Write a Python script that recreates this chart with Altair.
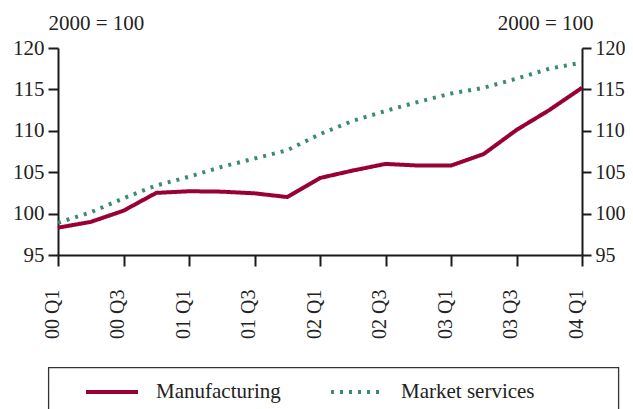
import altair as alt
import pandas as pd

quarters = ["00 Q1", "00 Q2", "00 Q3", "00 Q4",
            "01 Q1", "01 Q2", "01 Q3", "01 Q4",
            "02 Q1", "02 Q2", "02 Q3", "02 Q4",
            "03 Q1", "03 Q2", "03 Q3", "03 Q4",
            "04 Q1"]
manufacturing = [98.3, 99.0, 100.35, 102.5, 102.7, 102.65, 102.45, 102.0,
                 104.3, 105.2, 106.0, 105.8, 105.8, 107.2, 110.1, 112.5, 115.2]
market_services = [98.9, 100.15, 101.85, 103.4, 104.45, 105.65, 106.65, 107.65,
                   109.6, 111.2, 112.4, 113.5, 114.5, 115.2, 116.3, 117.5, 118.25]
series_names = ["Manufacturing", "Market services"]
series_colors = ["#990033", "#3d8b6d"]
y_ticks = [95, 100, 105, 110, 115, 120]
x_tick_idx = [0, 2, 4, 6, 8, 10, 12, 14, 16]
unit_title = "2000 = 100"

rows = []
for i, q in enumerate(quarters):
    rows.append({"i": i, "q": q, "series": series_names[0], "v": manufacturing[i]})
    rows.append({"i": i, "q": q, "series": series_names[1], "v": market_services[i]})
df = pd.DataFrame(rows)

FONT = "Liberation Serif"
TXT = "#222222"
label_expr = "[" + ",".join("'%s'" % q for q in quarters) + "][datum.value]"

W, H = 524, 207

x_enc = alt.X("i:Q",
              scale=alt.Scale(domain=[0, len(quarters) - 1], nice=False, zero=False),
              axis=alt.Axis(values=x_tick_idx, labelExpr=label_expr, labelAngle=-90,
                            labelAlign="right", labelBaseline="alphabetic",
                            tickSize=11, labelPadding=23, title=None, grid=False,
                            domainColor="#1a1a1a", domainWidth=2, tickColor="#1a1a1a",
                            tickWidth=2, labelFont=FONT, labelFontSize=20,
                            labelColor=TXT))

y_scale = alt.Scale(domain=[95, 120], nice=False, zero=False)

def y_axis(orient, title_align, title_x, pad, tick, size):
    return alt.Axis(orient=orient, values=y_ticks, tickSize=tick, labelPadding=pad,
                    grid=False, title=unit_title, titleAngle=0,
                    titleAlign=title_align, titleX=title_x, titleY=-19,
                    titleBaseline="alphabetic", titleFont=FONT, titleFontSize=21,
                    titleFontWeight="normal", titleColor=TXT,
                    domainColor="#1a1a1a", domainWidth=2, tickColor="#1a1a1a",
                    tickWidth=2, labelFont=FONT, labelFontSize=size, labelColor=TXT)

lines = alt.Chart(df).mark_line(strokeWidth=4, strokeCap="butt").encode(
    x=x_enc,
    y=alt.Y("v:Q", scale=y_scale, axis=y_axis("left", "left", -10, 4, 10, 21)),
    color=alt.Color("series:N",
                    scale=alt.Scale(domain=series_names, range=series_colors),
                    legend=alt.Legend(orient="none", legendX=26, legendY=316,
                                      direction="horizontal", title=None,
                                      symbolType="stroke", symbolSize=2704,
                                      symbolStrokeWidth=4, labelFont=FONT,
                                      labelFontSize=21, labelColor=TXT,
                                      labelOffset=16, columnPadding=42,
                                      padding=0)),
    strokeDash=alt.StrokeDash("series:N",
                              scale=alt.Scale(domain=series_names,
                                              range=[[1, 0], [3, 6]]),
                              legend=None),
)

right_axis = alt.Chart(df).mark_line(opacity=0).encode(
    x=x_enc,
    y=alt.Y("v:Q", scale=y_scale, axis=y_axis("right", "right", 11, 4, 9, 20)),
)

box = alt.Chart(pd.DataFrame({"a": [0]})).mark_rect(
    fill="white", stroke="#333333", strokeWidth=1.3
).encode(
    x=alt.value(-9.4), x2=alt.value(560.6), y=alt.value(319.6), y2=alt.value(420)
)

chart = alt.layer(box, lines, right_axis).resolve_scale(
    y="shared"
).resolve_axis(y="independent").properties(
    width=W, height=H,
    autosize=alt.AutoSizeParams(type="none"),
    padding={"left": 50, "top": 40, "right": 43, "bottom": 154},
    background="white",
).configure_view(stroke=None)

chart.save("out.html", embed_options={"renderer": "svg", "actions": False})
